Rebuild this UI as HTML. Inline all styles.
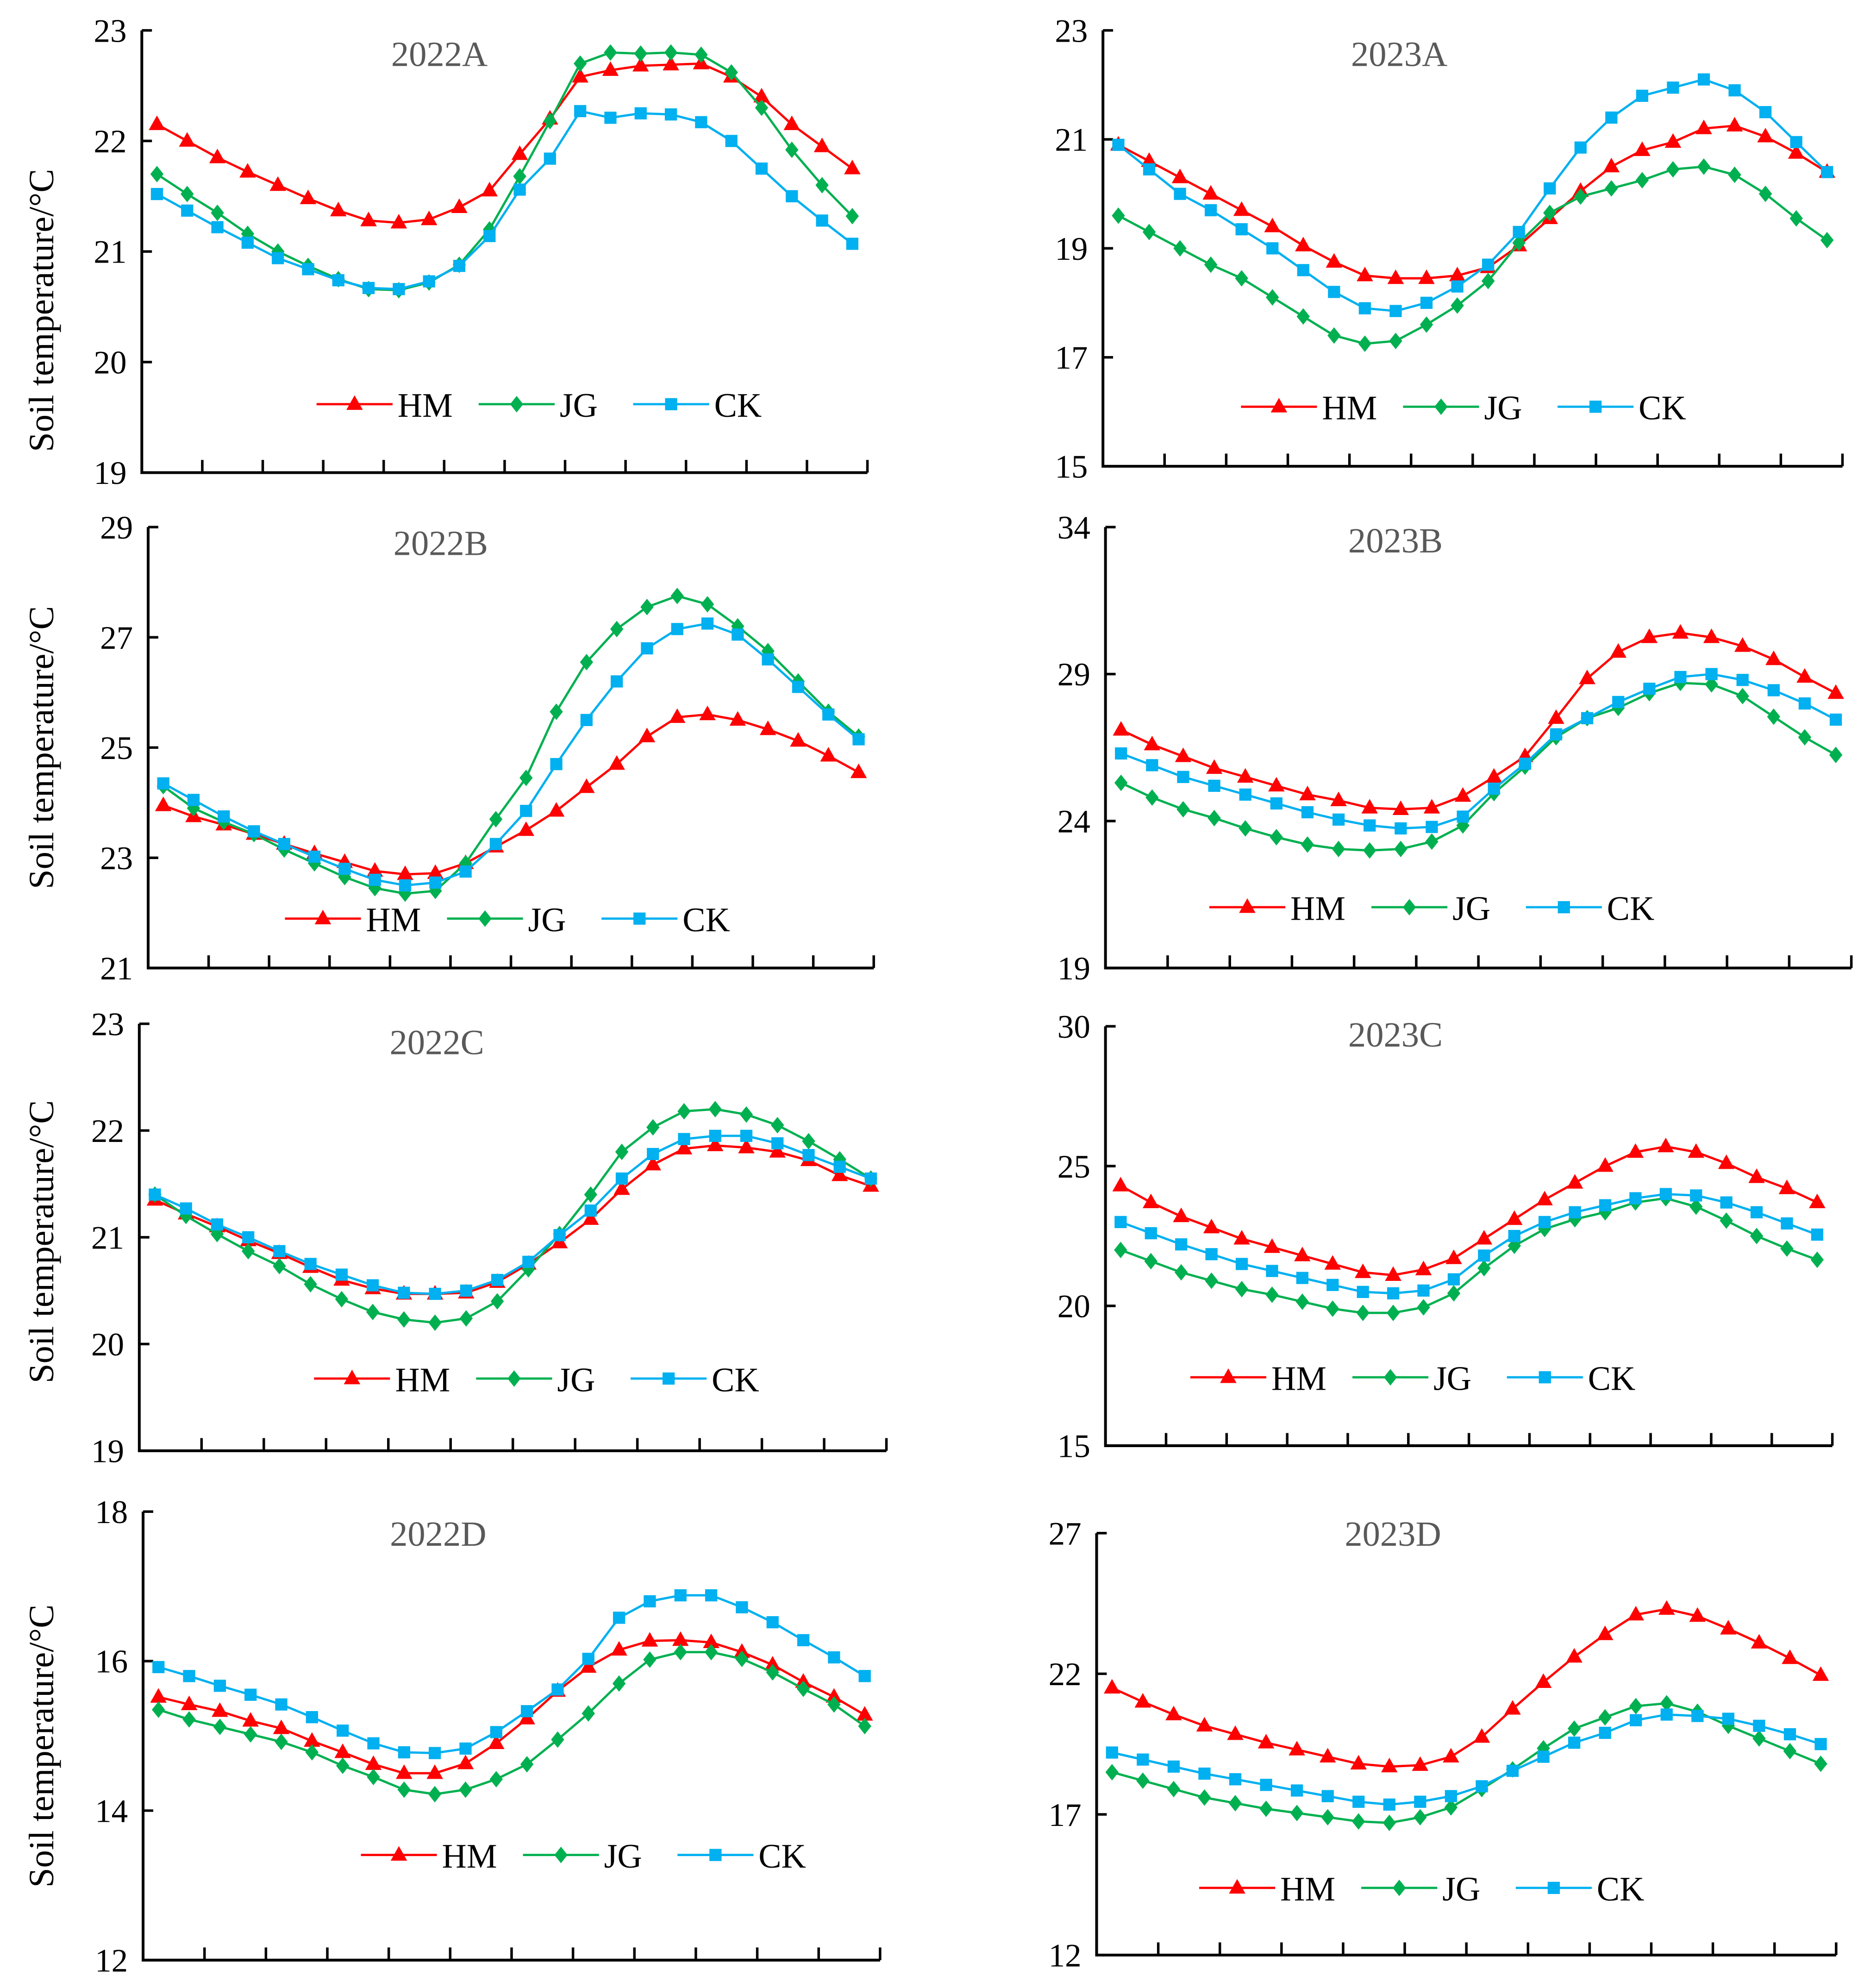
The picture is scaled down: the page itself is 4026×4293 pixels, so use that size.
<!DOCTYPE html>
<html><head><meta charset="utf-8"><style>
html,body{margin:0;padding:0;background:#fff;}
svg{display:block;font-family:"Liberation Serif",serif;}
</style></head><body>
<svg id="chart" xmlns="http://www.w3.org/2000/svg" width="4026" height="4293" viewBox="0 0 1472 1569" preserveAspectRatio="none"></svg>
<script>
const panelNames = ["2022A","2022B","2022C","2022D","2023A","2023B","2023C","2023D"];
const seriesNames = ["HM","JG","CK"];
const yTicks2022A = [19,20,21,22,23];
const yTicks2022B = [21,23,25,27,29];
const yTicks2022C = [19,20,21,22,23];
const yTicks2022D = [12,14,16,18];
const yTicks2023A = [15,17,19,21,23];
const yTicks2023B = [19,24,29,34];
const yTicks2023C = [15,20,25,30];
const yTicks2023D = [12,17,22,27];
const hm2022A = [22.15,22.0,21.85,21.72,21.6,21.48,21.37,21.28,21.26,21.29,21.4,21.55,21.88,22.2,22.58,22.64,22.68,22.69,22.70,22.58,22.4,22.15,21.95,21.75];
const jg2022A = [21.7,21.52,21.35,21.16,21.0,20.87,20.75,20.66,20.65,20.72,20.88,21.2,21.68,22.18,22.7,22.8,22.79,22.8,22.78,22.62,22.3,21.92,21.6,21.32];
const ck2022A = [21.52,21.37,21.22,21.08,20.94,20.84,20.74,20.67,20.66,20.73,20.87,21.14,21.56,21.84,22.27,22.21,22.25,22.24,22.17,22.0,21.75,21.5,21.28,21.07];
const hm2022B = [23.95,23.75,23.6,23.43,23.25,23.08,22.92,22.76,22.7,22.72,22.9,23.2,23.5,23.85,24.28,24.7,25.2,25.55,25.6,25.5,25.33,25.12,24.85,24.55];
const jg2022B = [24.3,23.9,23.65,23.43,23.15,22.9,22.65,22.45,22.35,22.4,22.9,23.7,24.45,25.65,26.55,27.15,27.55,27.75,27.6,27.2,26.75,26.2,25.65,25.2];
const ck2022B = [24.35,24.05,23.75,23.48,23.25,23.02,22.8,22.6,22.5,22.55,22.75,23.25,23.85,24.7,25.5,26.2,26.8,27.15,27.25,27.05,26.6,26.1,25.6,25.15];
const hm2022C = [21.35,21.22,21.1,20.97,20.85,20.72,20.6,20.52,20.47,20.47,20.48,20.58,20.75,20.95,21.17,21.45,21.68,21.83,21.86,21.84,21.8,21.72,21.58,21.48];
const jg2022C = [21.4,21.2,21.03,20.87,20.73,20.56,20.42,20.3,20.23,20.2,20.24,20.4,20.7,21.03,21.4,21.8,22.03,22.18,22.2,22.15,22.05,21.9,21.73,21.55];
const ck2022C = [21.4,21.27,21.12,21.0,20.87,20.75,20.65,20.55,20.48,20.47,20.5,20.6,20.77,21.02,21.25,21.55,21.78,21.92,21.95,21.95,21.88,21.77,21.66,21.55];
const hm2022D = [15.52,15.42,15.33,15.2,15.1,14.93,14.78,14.62,14.5,14.5,14.63,14.9,15.23,15.6,15.92,16.15,16.27,16.28,16.25,16.12,15.95,15.72,15.52,15.28];
const jg2022D = [15.35,15.22,15.12,15.02,14.92,14.78,14.6,14.45,14.28,14.22,14.28,14.42,14.62,14.95,15.3,15.7,16.02,16.12,16.12,16.03,15.85,15.63,15.42,15.13];
const ck2022D = [15.92,15.8,15.67,15.55,15.42,15.25,15.07,14.9,14.78,14.77,14.83,15.05,15.33,15.62,16.03,16.58,16.8,16.88,16.88,16.72,16.52,16.28,16.05,15.8];
const hm2023A = [20.9,20.6,20.3,20.0,19.7,19.4,19.05,18.75,18.5,18.45,18.45,18.5,18.65,19.05,19.55,20.05,20.5,20.8,20.95,21.2,21.25,21.05,20.75,20.4];
const jg2023A = [19.6,19.3,19.0,18.7,18.45,18.1,17.75,17.4,17.25,17.3,17.6,17.95,18.4,19.1,19.65,19.95,20.1,20.25,20.45,20.5,20.35,20.0,19.55,19.15];
const ck2023A = [20.9,20.45,20.0,19.7,19.35,19.0,18.6,18.2,17.9,17.85,18.0,18.3,18.7,19.3,20.1,20.85,21.4,21.8,21.95,22.1,21.9,21.5,20.95,20.4];
const hm2023B = [27.1,26.6,26.2,25.8,25.5,25.2,24.9,24.7,24.45,24.4,24.45,24.85,25.5,26.2,27.5,28.85,29.75,30.25,30.4,30.25,29.95,29.5,28.9,28.35];
const jg2023B = [25.3,24.8,24.4,24.1,23.75,23.45,23.2,23.05,23.0,23.05,23.3,23.85,24.95,25.85,26.85,27.5,27.85,28.35,28.7,28.65,28.25,27.55,26.85,26.25];
const ck2023B = [26.3,25.9,25.5,25.2,24.9,24.6,24.3,24.05,23.85,23.75,23.8,24.15,25.1,25.95,26.95,27.5,28.05,28.5,28.9,29.0,28.8,28.45,28.0,27.45];
const hm2023C = [24.3,23.7,23.2,22.8,22.4,22.1,21.8,21.5,21.2,21.1,21.3,21.7,22.4,23.1,23.8,24.4,25.0,25.5,25.7,25.5,25.1,24.6,24.2,23.7];
const jg2023C = [22.0,21.6,21.2,20.9,20.6,20.4,20.15,19.9,19.75,19.75,19.95,20.45,21.35,22.15,22.75,23.1,23.35,23.7,23.85,23.55,23.05,22.5,22.05,21.65];
const ck2023C = [23.0,22.6,22.2,21.85,21.5,21.25,21.0,20.75,20.5,20.45,20.55,20.95,21.8,22.5,23.0,23.35,23.6,23.85,24.0,23.95,23.7,23.35,22.95,22.55];
const hm2023D = [21.5,21.0,20.55,20.15,19.85,19.55,19.3,19.05,18.8,18.7,18.75,19.05,19.75,20.75,21.7,22.6,23.4,24.1,24.3,24.05,23.6,23.1,22.55,21.95];
const jg2023D = [18.5,18.2,17.9,17.6,17.4,17.2,17.05,16.9,16.75,16.7,16.9,17.25,17.9,18.6,19.35,20.05,20.45,20.85,20.95,20.65,20.15,19.7,19.25,18.8];
const ck2023D = [19.2,18.95,18.7,18.45,18.25,18.05,17.85,17.65,17.45,17.35,17.45,17.65,18.0,18.55,19.05,19.55,19.9,20.35,20.55,20.5,20.4,20.15,19.85,19.5];

const tickSets = [yTicks2022A,yTicks2022B,yTicks2022C,yTicks2022D,yTicks2023A,yTicks2023B,yTicks2023C,yTicks2023D];
const dataSets = [[hm2022A,jg2022A,ck2022A],[hm2022B,jg2022B,ck2022B],[hm2022C,jg2022C,ck2022C],[hm2022D,jg2022D,ck2022D],
 [hm2023A,jg2023A,ck2023A],[hm2023B,jg2023B,ck2023B],[hm2023C,jg2023C,ck2023C],[hm2023D,jg2023D,ck2023D]];

const L = [
 {l:112,r:685,t:24,b:373,tx:347,ty:52,lx:250,ly:319,yt:true,ytc:245},
 {l:117,r:690,t:416,b:764,tx:348,ty:438,lx:225,ly:725,yt:true,ytc:590},
 {l:110,r:700,t:808,b:1145,tx:345,ty:832,lx:248,ly:1088,yt:true,ytc:980},
 {l:113,r:695,t:1193,b:1547,tx:346,ty:1220,lx:285,ly:1464,yt:true,ytc:1378},
 {l:871,r:1455,t:24,b:368,tx:1105,ty:52,lx:980,ly:321,yt:false},
 {l:873,r:1462,t:416,b:764,tx:1102,ty:436,lx:955,ly:716,yt:false},
 {l:873,r:1447,t:810,b:1141,tx:1102,ty:826,lx:940,ly:1087,yt:false},
 {l:866,r:1450,t:1210,b:1543,tx:1100,ty:1220,lx:947,ly:1490,yt:false}
];
const colors = ["#FF0000","#00B050","#00B0F0"];
const NS = "http://www.w3.org/2000/svg";
const svg = document.getElementById("chart");
function mk(tag, attrs, parent){const e=document.createElementNS(NS,tag);for(const k in attrs)e.setAttribute(k,attrs[k]);(parent||svg).appendChild(e);return e;}
function marker(k, x, y, g){
  let m;
  if(k===0) m=mk("polygon",{points:`${x},${y-7} ${x-6.5},${y+4.5} ${x+6.5},${y+4.5}`,fill:colors[0]},g);
  else if(k===1) m=mk("polygon",{points:`${x},${y-6.5} ${x+5.2},${y} ${x},${y+6.5} ${x-5.2},${y}`,fill:colors[1]},g);
  else m=mk("rect",{x:x-4.8,y:y-4.8,width:9.6,height:9.6,fill:colors[2]},g);
  return m;
}
panelNames.forEach((name,p)=>{
  const c=L[p], ticks=tickSets[p], ymin=ticks[0], ymax=ticks[ticks.length-1];
  const g=mk("g",{});
  
  
  const yS=v=>c.b-(v-ymin)/(ymax-ymin)*(c.b-c.t);
  const n=dataSets[p][0].length, slot=(c.r-c.l)/n;
  const xS=i=>c.l+(i+0.5)*slot;
  const ax=mk("path",{d:`M${c.l},${c.t} L${c.l},${c.b} L${c.r},${c.b}`,fill:"none",stroke:"#000","stroke-width":2.2},g);
  
  
  for(let i=0;i<=12;i++){const x=c.l+i*(c.r-c.l)/12;mk("line",{x1:x,x2:x,y1:c.b,y2:c.b-10,stroke:"#000","stroke-width":2},g);}
  ticks.forEach(v=>{
    const y=yS(v);
    mk("line",{x1:c.l,x2:c.l+8,y1:y,y2:y,stroke:"#000","stroke-width":2},g);
    const t=mk("text",{x:c.l-12,y:y+9,"text-anchor":"end","font-size":26,fill:"#000"},g);
    t.textContent=v;
    
    
  });
  const ti=mk("text",{x:c.tx,y:c.ty,"text-anchor":"middle","font-size":28,fill:"#595959"},g);
  ti.textContent=name;
  
  
  if(c.yt){
    const yt=mk("text",{x:0,y:0,"text-anchor":"middle","font-size":28,fill:"#000",transform:`translate(42,${c.ytc}) rotate(-90)`},g);
    yt.textContent="Soil temperature/°C";
    
    
  }
  dataSets[p].forEach((arr,k)=>{
    const pts=arr.map((v,i)=>xS(i).toFixed(2)+","+yS(v).toFixed(2)).join(" ");
    const pl=mk("polyline",{points:pts,fill:"none",stroke:colors[k],"stroke-width":1.8,"stroke-linejoin":"round"},g);
    
    
    arr.forEach((v,i)=>{
      const m=marker(k,xS(i),yS(v),g);
      
      
    });
  });
  const offs=[0,128,250];
  seriesNames.forEach((s,k)=>{
    const x0=c.lx+offs[k];
    const lg=mk("g",{},g);
    
    
    mk("line",{x1:x0,x2:x0+60,y1:c.ly,y2:c.ly,stroke:colors[k],"stroke-width":1.8},lg);
    marker(k,x0+30,c.ly,lg);
    const t=mk("text",{x:x0+64,y:c.ly+10,"font-size":27,fill:"#000"},lg);
    t.textContent=s;
  });
});
</script>
</body></html>
